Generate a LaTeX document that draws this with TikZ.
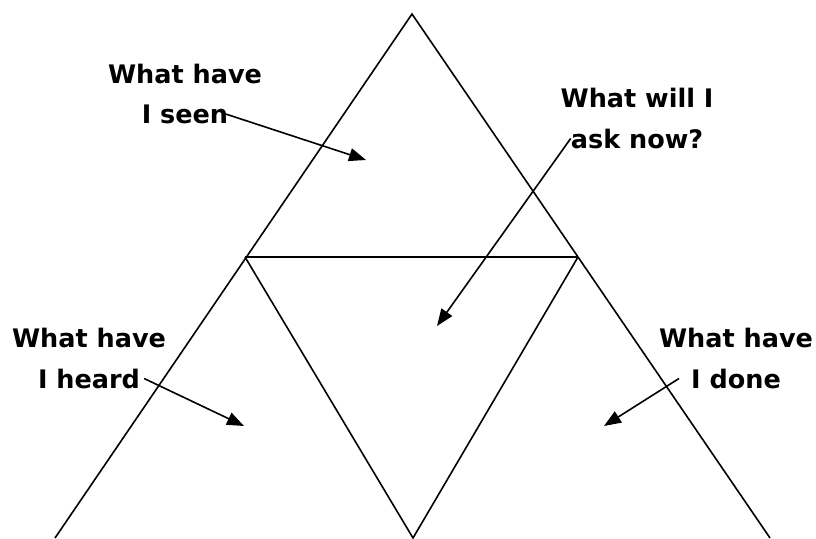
\documentclass[tikz,border=0pt]{standalone}
\usepackage{fontspec}
\setmainfont{DejaVu Sans}
\usetikzlibrary{arrows.meta, positioning, calc}

\begin{document}
\begin{tikzpicture}[
    x=1pt, y=-1pt,
    % Styles
    edge/.style={
        line width=1.6pt,
        black
    },
    question/.style={
        inner sep=0pt,
        anchor=base,
        font=\fontsize{25.5}{40}\selectfont\bfseries
    },
    pointer/.style={
        -{Triangle[length=17pt,width=13pt]},
        line width=1.6pt,
        black
    }
]

\useasboundingbox (0,0) rectangle (816,538);

% --- Corners of the triangles ---
\coordinate (apex) at (412,14);
\coordinate (midL) at (245,257);
\coordinate (midR) at (578,257);
\coordinate (botL) at (55,538);
\coordinate (botR) at (770,538);
\coordinate (botM) at (413,538);

% --- Triangles ---
\draw[edge] (botL) -- (apex) -- (botR);
\draw[edge] (midL) -- (midR);
\draw[edge] (midL) -- (botM) -- (midR);

% --- Questions ---
\node[question] (seen1) at (185,83) {What have};
\node[question] (seen2) at ($(seen1.base)+(0,40)$) {I seen};

\node[question] (ask1) at (637,107) {What will I};
\node[question] (ask2) at ($(ask1.base)+(0,41)$) {ask now?};

\node[question] (heard1) at (89,347) {What have};
\node[question] (heard2) at ($(heard1.base)+(0,41)$) {I heard};

\node[question] (done1) at (736,347) {What have};
\node[question] (done2) at ($(done1.base)+(0,41)$) {I done};

% --- Arrow tips ---
\coordinate (seenTip) at (366,160);
\coordinate (askTip) at (437,326);
\coordinate (heardTip) at (244,426);
\coordinate (doneTip) at (604,426);

% --- Arrows ---
\draw[pointer] ($(seen2.east)+(-3,0)$) -- (seenTip);
\draw[pointer] (ask2.west) -- (askTip);
\draw[pointer] ($(heard2.east)+(4,0)$) -- (heardTip);
\draw[pointer] ($(done2.west)+(-12,0)$) -- (doneTip);

\end{tikzpicture}
\end{document}
